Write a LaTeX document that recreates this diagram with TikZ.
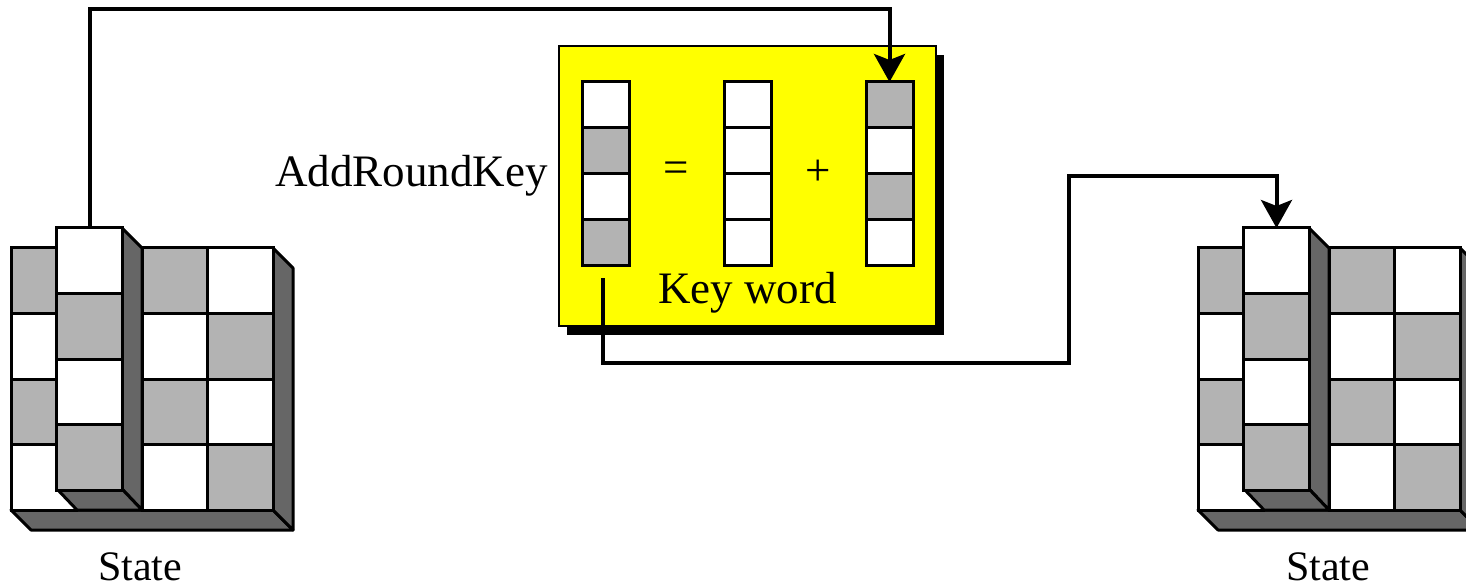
\documentclass[tikz,border=0pt]{standalone}
\usepackage{fontspec}
\setmainfont{Liberation Serif}
\newfontfamily\labelfont{Liberation Serif}
\usetikzlibrary{arrows.meta,shadows}

\definecolor{shade}{HTML}{B3B3B3}
\definecolor{side}{HTML}{666666}
\definecolor{boxyellow}{HTML}{FFFF00}

\begin{document}
\begin{tikzpicture}[
    x=0.5pt, y=-0.5pt,
    cell/.style={draw, line width=1.5pt, minimum width=32.75pt, minimum height=32.75pt, inner sep=0pt, outer sep=0pt},
    cell0/.style={cell, fill=shade},
    cell1/.style={cell, fill=white},
    face/.style={draw, line width=1.5pt, fill=side, line join=round},
    word cell/.style={draw, line width=1.5pt, minimum width=23.5pt, minimum height=23pt, inner sep=0pt, outer sep=0pt},
    key box/.style={draw, line width=1pt, fill=boxyellow, minimum width=188.5pt, minimum height=140pt,
        drop shadow={shadow xshift=4pt, shadow yshift=-4.5pt, fill=black, opacity=1}},
    link/.style={line width=2pt, -{Stealth[length=14pt, width=15.5pt, inset=3pt]}},
    label/.style={font=\labelfont\fontsize{22.5}{27}\selectfont, inner sep=0pt},
    state label/.style={font=\labelfont\fontsize{21}{25}\selectfont, inner sep=0pt}
]

\useasboundingbox (0,0) rectangle (1466,588);

% States (left and right)
\foreach \s/\dx in {L/0, R/1187} {
\begin{scope}[shift={(\dx,0)}]
    % Base slab
    \draw[face] (11,510) -- (273,510) -- (293,530) -- (31,530) -- cycle;
    \draw[face] (273,248) -- (293,268) -- (293,530) -- (273,510) -- cycle;
    % Grid cells
    \foreach \r in {1,...,4} {
        \foreach \c in {1,3,4} {
            \pgfmathtruncatemacro{\odd}{mod(\r+\c,2)}
            \node[cell\odd] (\s-\r-\c) at ({11+65.5*(\c-0.5)}, {248+65.5*(\r-0.5)}) {};
        }
    }
    % Pulled-out column
    \draw[face] (122,228) -- (142,248) -- (142,510) -- (122,489) -- cycle;
    \draw[face] (57,489) -- (122,489) -- (142,510) -- (77,510) -- cycle;
    \foreach \r in {1,...,4} {
        \pgfmathtruncatemacro{\odd}{mod(\r,2)}
        \node[cell\odd] (\s-\r-2) at (89.5, {228+65.5*(\r-0.5)}) {};
    }
\end{scope}
}

% Key word box
\node[key box] (box) at (747.5,186) {};

\foreach \c/\x/\fa/\fb in {A/605.5/white/shade, B/747.5/white/white, C/889.5/shade/white} {
    \foreach \r in {1,...,4} {
        \pgfmathtruncatemacro{\odd}{mod(\r,2)}
        \ifnum\odd=1 \def\f{\fa}\else\def\f{\fb}\fi
        \node[word cell, fill=\f] (\c-\r) at (\x, {82+46*(\r-0.5)}) {};
    }
}

% Labels
\node[label] (eq) at (676,172) {=};
\node[label] (plus) at (818,173) {+};
\node[label, anchor=base east] (title) at (548,187) {AddRoundKey};
\node[label, anchor=base] (kw) at (747.5,303) {Key word};
\node[state label, anchor=base] (Lname) at (140,580) {State};
\node[state label, anchor=base] (Rname) at (1328,580) {State};

% Connectors
\coordinate (top) at (0,9);
\coordinate (out) at (603,278);
\coordinate (low) at (1069,363);
\coordinate (high) at (1069,176);

\draw[link] (L-1-2.north) -- (L-1-2.north |- top) -| (C-1.north);
\draw[link] (out) |- (low) -- (high) -| (R-1-2.north);

\end{tikzpicture}
\end{document}
